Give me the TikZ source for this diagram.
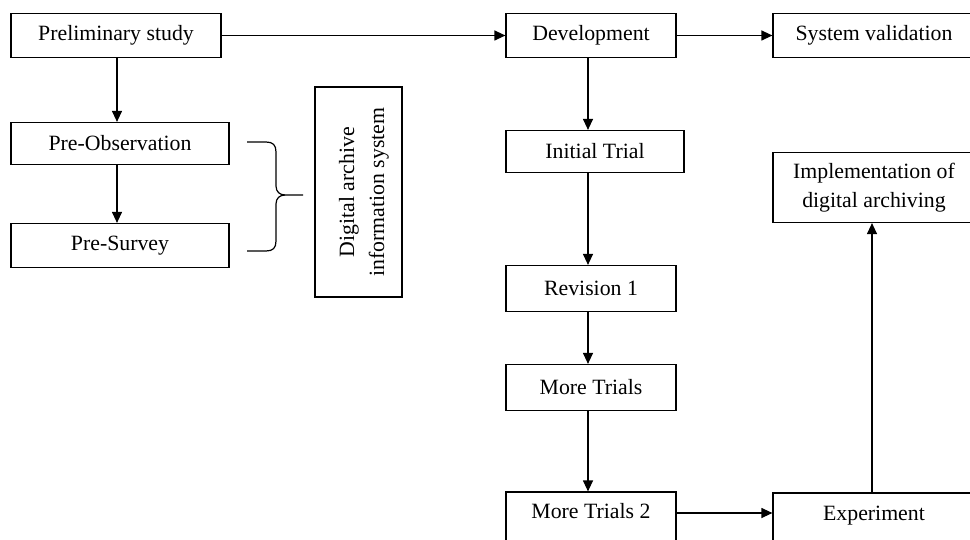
\documentclass[tikz,border=0pt]{standalone}
\usepackage{fontspec}
\setmainfont{Liberation Serif}
\usetikzlibrary{arrows.meta}
\begin{document}
\begin{tikzpicture}[x=1pt,y=-1pt,
  box/.style={draw=black, line width=1.2pt, fill=white, inner sep=0pt, align=center,
    font=\fontsize{21.8}{29}\selectfont},
  arr/.style={line width=1.2pt, -{Triangle[length=11pt,width=10pt]}},
  brace/.style={line width=1.2pt}]
\useasboundingbox (0,0) rectangle (970,540);
\clip (0,0) rectangle (970,540);
\fill[white] (0,0) rectangle (970,540);
% left column
\node[box, minimum width=210pt, minimum height=44pt] (prelim) at (116,35.5) {Preliminary study};
\node[box, minimum width=218pt, minimum height=42pt] (preobs) at (120,143.5) {Pre-Observation};
\node[box, minimum width=218pt, minimum height=44pt] (presurv) at (120,245.5) {Pre-Survey};
\node[box, rotate=90, minimum width=210pt, minimum height=87pt] (dais) at (358.5,192) {};
\node[rotate=90, align=center, inner sep=0pt, font=\fontsize{21.8}{30}\selectfont] (daistext) at (364,192) {Digital archive\\information system};
% middle column
\node[box, minimum width=170pt, minimum height=44pt] (dev) at (591,35.5) {Development};
\node[box, minimum width=178pt, minimum height=42pt] (init) at (595,151.5) {Initial Trial};
\node[box, minimum width=170pt, minimum height=46pt] (rev) at (591,288.5) {Revision 1};
\node[box, minimum width=170pt, minimum height=46pt] (more) at (591,387.5) {More Trials};
\node[box, minimum width=170pt, text height=26pt, text depth=45pt, anchor=base] (more2) at (591,518) {More Trials 2};
% right column
\node[box, minimum width=202pt, minimum height=44pt] (sysval) at (874,35.5) {System validation};
\node[box, minimum width=202pt, minimum height=70pt] (impl) at (874,187.5) {Implementation of\\digital archiving};
\node[box, minimum width=202pt, text height=27pt, text depth=45pt, anchor=base] (exper) at (874,520) {Experiment};
% connectors
\coordinate (lx) at (117,0);
\coordinate (mx) at (588,0);
\coordinate (ry) at (0,513);
\draw[arr] (prelim.east) -- (dev.west);
\draw[arr] (dev.east) -- (sysval.west);
\draw[arr] (prelim.south -| lx) -- (preobs.north -| lx);
\draw[arr] (preobs.south -| lx) -- (presurv.north -| lx);
\draw[arr] (dev.south -| mx) -- (init.north -| mx);
\draw[arr] (init.south -| mx) -- (rev.north -| mx);
\draw[arr] (rev.south -| mx) -- (more.north -| mx);
\draw[arr] (more.south -| mx) -- (more2.north -| mx);
\draw[arr] (more2.east |- ry) -- (exper.west |- ry);
\draw[arr] ([xshift=-2pt]exper.north) -- ([xshift=-2pt]impl.south);
% brace
\coordinate (btop) at (247,142);
\coordinate (bbot) at (247,251);
\coordinate (btip) at (303,195);
\draw[brace] (btop) -- (266,142) .. controls (273,142) and (276,145) .. (276,152)
  -- (276,186) .. controls (276,192) and (280,195) .. (285,195) -- (btip);
\draw[brace] (bbot) -- (266,251) .. controls (273,251) and (276,248) .. (276,241)
  -- (276,204) .. controls (276,198) and (280,195) .. (285,195);
\end{tikzpicture}
\end{document}
